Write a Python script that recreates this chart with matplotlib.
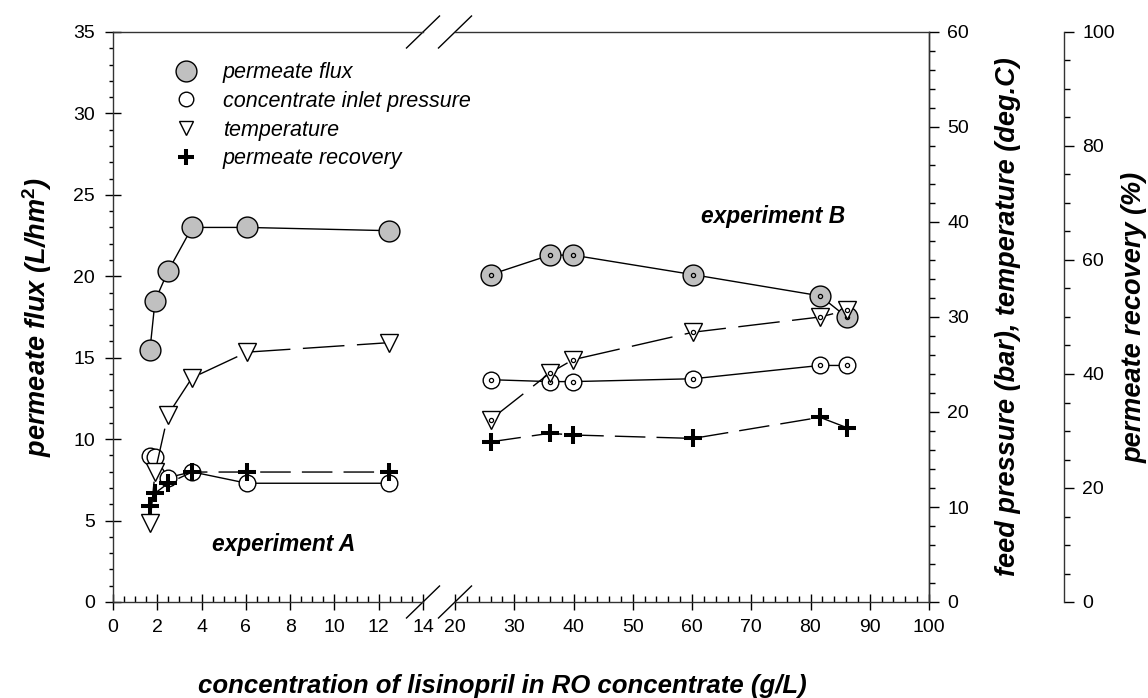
import matplotlib
matplotlib.use('Agg')
import matplotlib.pyplot as plt
from matplotlib.lines import Line2D
from matplotlib.ticker import MultipleLocator

plt.rcParams['font.family'] = ['Liberation Sans', 'DejaVu Sans']
plt.rcParams['mathtext.fontset'] = 'custom'
plt.rcParams['mathtext.it'] = 'Liberation Sans:italic:bold'
plt.rcParams['mathtext.rm'] = 'Liberation Sans:bold'

# experiment A (low concentration range)
expA_conc = [1.67, 1.9, 2.48, 3.57, 6.05, 12.47]
expA_flux = [15.5, 18.5, 20.3, 23.0, 23.0, 22.8]
expA_press = [15.4, 15.3, 13.1, 13.7, 12.5, 12.5]
expA_temp = [8.3, 13.7, 19.7, 23.6, 26.3, 27.3]
expA_recov = [16.8, 19.1, 20.8, 22.8, 22.8, 22.8]

# experiment B (high concentration range)
expB_conc = [26.0, 36.0, 39.9, 60.2, 81.6, 86.1]
expB_flux = [20.1, 21.3, 21.3, 20.1, 18.8, 17.5]
expB_press = [23.4, 23.2, 23.2, 23.5, 24.9, 24.9]
expB_temp = [19.2, 24.1, 25.5, 28.4, 30.0, 30.7]
expB_recov = [28.1, 29.6, 29.3, 28.7, 32.4, 30.6]

legend_labels = ['permeate flux', 'concentrate inlet pressure',
                 'temperature', 'permeate recovery']

GRAY = '#c0c0c0'
TEMP_DASH = (30, 9)
REC_DASH = (22, 8)

fig = plt.figure(figsize=(11.48, 6.98), dpi=100)
bot = 96 / 698
hgt = 570 / 698
ax1 = fig.add_axes([113 / 1148, bot, 310 / 1148, hgt])
ax2 = fig.add_axes([455 / 1148, bot, 474 / 1148, hgt])

# twin axes for pressure/temperature and recovery scales
ax1p = ax1.twinx()
ax1r = ax1.twinx()
ax2p = ax2.twinx()
ax2r = ax2.twinx()

for a in (ax1, ax2):
    a.set_ylim(0, 35)
for a in (ax1p, ax2p):
    a.set_ylim(0, 60)
for a in (ax1r, ax2r):
    a.set_ylim(0, 100)
for a in (ax1, ax1p, ax1r):
    a.set_xlim(0, 14)
for a in (ax2, ax2p, ax2r):
    a.set_xlim(20, 100)

# ---- experiment A ----
ax1.plot(expA_conc, expA_flux, '-', color='black', lw=1, marker='o', ms=15,
         mfc=GRAY, mec='black', mew=1)
ax1p.plot(expA_conc, expA_press, '-', color='black', lw=1, marker='o', ms=12,
          mfc='white', mec='black', mew=1)
ax1p.plot(expA_conc, expA_temp, color='black', lw=1, dashes=TEMP_DASH,
          marker='v', ms=13, mfc='white', mec='black', mew=1)
ax1r.plot(expA_conc, expA_recov, color='black', lw=1, dashes=REC_DASH,
          marker='+', ms=13.5, mec='black', mew=2.9)

# ---- experiment B ----
ax2.plot(expB_conc, expB_flux, '-', color='black', lw=1, marker='o', ms=15,
         mfc=GRAY, mec='black', mew=1)
ax2.plot(expB_conc, expB_flux, 'o', ms=3, mfc=GRAY, mec='black', mew=0.9)
ax2p.plot(expB_conc, expB_press, '-', color='black', lw=1, marker='o', ms=12,
          mfc='white', mec='black', mew=1)
ax2p.plot(expB_conc, expB_press, 'o', ms=3, mfc='white', mec='black', mew=0.9)
ax2p.plot(expB_conc, expB_temp, color='black', lw=1, dashes=TEMP_DASH,
          marker='v', ms=13, mfc='white', mec='black', mew=1)
ax2p.plot(expB_conc, expB_temp, 'o', ms=3, mfc='white', mec='black', mew=0.9)
ax2r.plot(expB_conc, expB_recov, color='black', lw=1, dashes=REC_DASH,
          marker='+', ms=13.5, mec='black', mew=2.9)

# ---- spines ----
ax1.spines['right'].set_visible(False)
ax2.spines['left'].set_visible(False)
for a in (ax1p, ax1r):
    for s in a.spines.values():
        s.set_visible(False)
    a.set_yticks([])
    a.set_xticks([])
for a in (ax2p, ax2r):
    for k in ('left', 'top', 'bottom'):
        a.spines[k].set_visible(False)
ax2r.spines['right'].set_position(('axes', (1064 - 455) / 474))
ax2.tick_params(axis='y', left=False, labelleft=False, right=False)

# ---- ticks ----
ax1.xaxis.set_major_locator(MultipleLocator(2))
ax1.xaxis.set_minor_locator(MultipleLocator(0.5))
ax2.xaxis.set_major_locator(MultipleLocator(10))
ax2.xaxis.set_minor_locator(MultipleLocator(2))
ax1.yaxis.set_major_locator(MultipleLocator(5))
ax1.yaxis.set_minor_locator(MultipleLocator(1))
ax2p.yaxis.set_major_locator(MultipleLocator(10))
ax2p.yaxis.set_minor_locator(MultipleLocator(2))
ax2r.yaxis.set_major_locator(MultipleLocator(20))
ax2r.yaxis.set_minor_locator(MultipleLocator(5))
ax2.set_xticks([20, 30, 40, 50, 60, 70, 80, 90, 100])

for a in (ax1, ax2):
    a.tick_params(axis='x', which='major', direction='inout', length=12,
                  width=1, labelsize=14, pad=6, top=False)
    a.tick_params(axis='x', which='minor', direction='in', length=4,
                  width=1, top=False)
ax1.tick_params(axis='y', which='major', direction='inout', length=12,
                width=1, labelsize=14, pad=7)
ax1.tick_params(axis='y', which='minor', direction='out', length=3, width=1)
for a in (ax2p, ax2r):
    a.tick_params(axis='y', which='major', direction='out', length=7,
                  width=1, labelsize=14, pad=6)
    a.tick_params(axis='y', which='minor', direction='out', length=4, width=1)

for a in (ax1, ax2, ax2p, ax2r):
    for s in a.spines.values():
        s.set_linewidth(1)
        s.set_color('#333333')

# ---- axis break marks ----
dx, dy = 16.5 / 310, 16 / 570
for yy in (0, 1):
    ax1.plot([1 - dx, 1 + dx], [yy - dy, yy + dy], transform=ax1.transAxes,
             color='black', lw=1, clip_on=False)
dx2, dy2 = 16.5 / 474, 16 / 570
for yy in (0, 1):
    ax2.plot([-dx2, dx2], [yy - dy2, yy + dy2], transform=ax2.transAxes,
             color='black', lw=1, clip_on=False)

# ---- labels ----
lab = dict(fontweight='bold', fontstyle='italic', ha='center', va='center')
fig.text(502 / 1148, 1 - 686 / 698, 'concentration of lisinopril in RO concentrate (g/L)',
         fontsize=18.5, **lab)
fig.text(37 / 1148, 1 - 317 / 698, 'permeate flux (L/hm$^2$)', rotation=90,
         fontsize=19.5, **lab)
fig.text(1008 / 1148, 1 - 317 / 698, 'feed pressure (bar), temperature (deg.C)',
         rotation=90, fontsize=19.5, **lab)
fig.text(1135 / 1148, 1 - 317 / 698, 'permeate recovery (%)', rotation=90,
         fontsize=19.5, **lab)

ax1.text(7.72, 3.5, 'experiment A', fontsize=16.4, fontweight='bold',
         fontstyle='italic', ha='center', va='center')
ax2.text(73.6, 23.65, 'experiment B', fontsize=16.4, fontweight='bold',
         fontstyle='italic', ha='center', va='center')

# ---- legend ----
handles = [
    Line2D([], [], ls='none', marker='o', ms=15, mfc=GRAY, mec='black', mew=1),
    Line2D([], [], ls='none', marker='o', ms=10.5, mfc='white', mec='black', mew=1),
    Line2D([], [], ls='none', marker='v', ms=10.5, mfc='white', mec='black', mew=1),
    Line2D([], [], ls='none', marker='+', ms=11, mec='black', mew=2.9),
]
leg = fig.legend(handles, legend_labels, loc='upper left',
                 bbox_to_anchor=(154 / 1148, 1 - 47 / 698),
                 bbox_transform=fig.transFigure, frameon=False,
                 handlelength=1.6, handletextpad=0.9, labelspacing=0.36,
                 borderpad=0.2, prop={'style': 'italic', 'size': 15.5})

fig.savefig('out.png', dpi=100)
